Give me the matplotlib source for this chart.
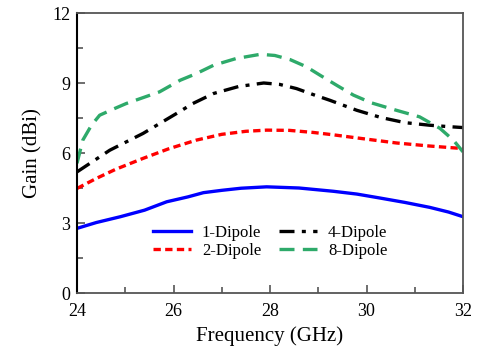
import matplotlib
matplotlib.use("Agg")
import matplotlib.pyplot as plt
from matplotlib.ticker import MultipleLocator

plt.rcParams['font.family'] = ['Liberation Serif', 'DejaVu Serif']

freq_1 = [24.0, 24.4, 24.9, 25.4, 25.86, 26.3, 26.62, 27.0, 27.4, 27.93, 28.6, 29.31, 29.8, 30.28, 30.8, 31.31, 31.7, 32.0]
gain_1 = [2.77, 3.02, 3.27, 3.55, 3.91, 4.12, 4.30, 4.40, 4.49, 4.55, 4.50, 4.36, 4.24, 4.07, 3.88, 3.67, 3.47, 3.27]

freq_2 = [24.0, 24.4, 24.8, 25.37, 25.9, 26.47, 27.0, 27.5, 27.93, 28.4, 28.9, 29.31, 29.9, 30.62, 31.3, 32.0]
gain_2 = [4.48, 4.91, 5.30, 5.77, 6.18, 6.55, 6.80, 6.93, 6.98, 6.97, 6.88, 6.78, 6.62, 6.43, 6.30, 6.19]

freq_4 = [24.0, 24.68, 25.37, 26.06, 26.4, 26.83, 27.35, 27.87, 28.2, 28.55, 28.9, 29.24, 29.8, 30.3, 30.8, 31.31, 31.7, 32.0]
gain_4 = [5.19, 6.12, 6.84, 7.69, 8.12, 8.55, 8.85, 9.00, 8.94, 8.76, 8.50, 8.26, 7.83, 7.52, 7.30, 7.19, 7.13, 7.09]

freq_8 = [24.0, 24.12, 24.3, 24.47, 24.75, 25.02, 25.71, 26.14, 26.47, 26.83, 27.3, 27.8, 28.1, 28.42, 28.75, 29.04, 29.4, 29.73, 30.1, 30.62, 31.1, 31.52, 31.8, 32.0]
gain_8 = [5.56, 6.55, 7.19, 7.62, 7.88, 8.12, 8.62, 9.12, 9.40, 9.76, 10.05, 10.23, 10.18, 10.00, 9.70, 9.33, 8.88, 8.48, 8.15, 7.83, 7.55, 7.06, 6.55, 6.05]

series = [
    ("1-Dipole", freq_1, gain_1, "#0000ff", "-"),
    ("2-Dipole", freq_2, gain_2, "#ff0000", (0, (2.2, 1.3))),
    ("4-Dipole", freq_4, gain_4, "#000000", (0, (4.5, 2.2, 1.2, 2.2))),
    ("8-Dipole", freq_8, gain_8, "#2eaa6a", (0, (4.5, 2.5))),
]

fig = plt.figure(figsize=(4.86, 3.52), dpi=100)
ax = fig.add_axes([77 / 486, 1 - 293 / 352, (463 - 77) / 486, (293 - 13) / 352])

for label, x, y, color, ls in series:
    ax.plot(x, y, color=color, linestyle=ls, linewidth=2.4, label=label)

ax.set_xlim(24, 32)
ax.set_ylim(0, 12)
ax.xaxis.set_major_locator(MultipleLocator(2))
ax.xaxis.set_minor_locator(MultipleLocator(1))
ax.yaxis.set_major_locator(MultipleLocator(3))
ax.yaxis.set_minor_locator(MultipleLocator(1.5))
ax.tick_params(which='both', direction='in', colors='#555555', labelcolor='black',
               labelsize=13, width=1.2)
ax.tick_params(which='major', length=6, pad=5)
ax.tick_params(which='minor', length=4)
ax.tick_params(axis='x', pad=7)

for side in ['top', 'right', 'bottom']:
    ax.spines[side].set_color('#555555')
    ax.spines[side].set_linewidth(1.3)
ax.spines['left'].set_color('black')
ax.spines['left'].set_linewidth(1.5)

ax.set_xlabel("Frequency (GHz)", fontsize=15, labelpad=5)
ax.set_ylabel("Gain (dBi)", fontsize=15, labelpad=7)

ax.legend(ncol=2, loc='lower center', bbox_to_anchor=(0.5, 0.08), frameon=False,
          fontsize=12, handlelength=2.3, handletextpad=0.65, columnspacing=1.05,
          labelspacing=0.1, borderpad=0.2)

fig.savefig("out.png", dpi=100)
